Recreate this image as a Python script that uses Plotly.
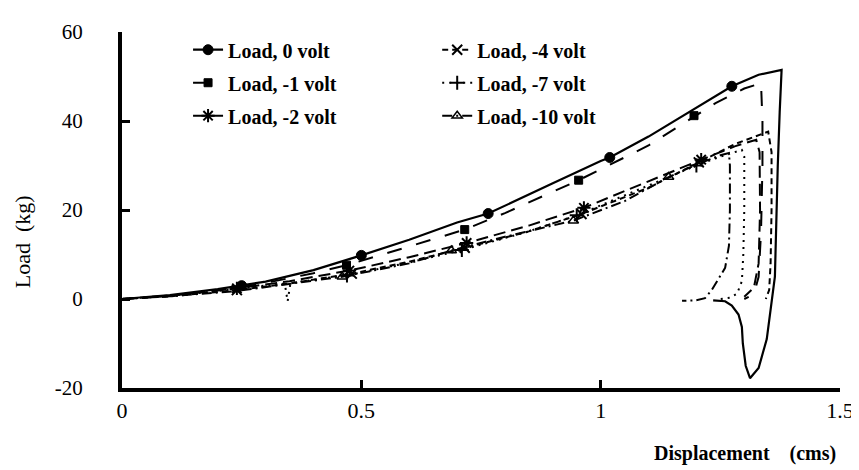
import plotly.graph_objects as go

# ---------------- data ----------------
# Load, 0 volt  (solid, filled circles)
v0_x = [0, 0.1, 0.2, 0.25, 0.3, 0.4, 0.5, 0.6, 0.7, 0.765, 0.8, 0.9, 1.0, 1.019, 1.1, 1.2, 1.274, 1.33, 1.378,
        1.374, 1.37, 1.364, 1.347, 1.33, 1.312, 1.303, 1.297, 1.295, 1.288, 1.274, 1.26, 1.235]
v0_y = [0, 0.9, 2.2, 3.0, 3.9, 6.5, 9.8, 13.3, 17.2, 19.2, 21.0, 26.0, 31.0, 31.8, 36.5, 43.0, 47.8, 50.4, 51.5,
        42, 30, 5, -9, -15.5, -17.8, -15, -10, -6.3, -3.5, -1.5, -0.5, -0.3]
v0_mx = [0.25, 0.5, 0.765, 1.019, 1.274]
v0_my = [3.0, 9.8, 19.2, 31.8, 47.8]

# Load, -1 volt  (squares)
v1_x = [0, 0.1, 0.235, 0.3, 0.4, 0.469, 0.6, 0.716, 0.8, 0.954, 1.1, 1.195, 1.24, 1.3, 1.335,
        1.338, 1.338, 1.335, 1.33, 1.32, 1.30]
v1_y = [0, 0.8, 2.4, 3.6, 5.8, 7.6, 11.8, 15.6, 19.3, 26.7, 34.5, 41.0, 44.0, 47.3, 48.5,
        40, 30, 15, 5, 1, 0]
v1_mx = [0.469, 0.716, 0.954, 1.195]
v1_my = [7.6, 15.6, 26.7, 41.2]

# Load, -2 volt  (asterisks)
v2_x = [0, 0.1, 0.24, 0.35, 0.48, 0.6, 0.72, 0.85, 0.965, 1.1, 1.21, 1.28, 1.325,
        1.332, 1.333, 1.33, 1.32, 1.30]
v2_y = [0, 0.7, 2.4, 4.0, 6.5, 9.4, 12.6, 16.5, 20.5, 26.5, 31.3, 34.3, 35.8,
        33, 20, 8, 2.5, 0.5]
v2_mx = [0.24, 0.475, 0.72, 0.965, 1.21]
v2_my = [2.4, 6.4, 12.6, 20.5, 31.3]

# Load, -4 volt  (x stars)
v4_x = [0, 0.1, 0.24, 0.35, 0.48, 0.6, 0.716, 0.85, 0.96, 1.1, 1.205, 1.28, 1.35,
        1.357, 1.357, 1.355, 1.352, 1.345]
v4_y = [0, 0.6, 2.0, 3.5, 5.7, 8.4, 11.5, 15.2, 19.1, 25.0, 30.7, 34.8, 37.6,
        33, 20, 8, 2, 0]
v4_mx = [0.24, 0.48, 0.716, 0.96, 1.205]
v4_my = [2.0, 5.7, 11.5, 19.1, 30.7]

# Load, -7 volt  (plus)
v7_x = [0, 0.1, 0.2, 0.3, 0.34, 0.346, 0.352, 0.48, 0.6, 0.71, 0.85, 0.95, 1.1, 1.2, 1.25, 1.295,
        1.3, 1.3, 1.298, 1.295, 1.285, 1.27, 1.25]
v7_y = [0, 0.7, 1.8, 3.0, 3.5, -0.5, 3.6, 5.5, 8.2, 11.0, 15.2, 18.8, 25.5, 30.0, 32.0, 33.5,
        32, 20, 10, 4, 1.2, 0.3, 0]
v7_mx = [0.47, 0.71, 0.95, 1.2]
v7_my = [5.3, 11.0, 18.8, 30.0]

# Load, -10 volt  (triangles)
v10_x = [0, 0.1, 0.24, 0.46, 0.6, 0.688, 0.8, 0.943, 1.05, 1.142, 1.2, 1.25, 1.268,
         1.27, 1.27, 1.268, 1.26, 1.247, 1.232, 1.218, 1.2, 1.17]
v10_y = [0, 0.6, 1.8, 5.0, 8.0, 10.9, 14.0, 17.6, 22.0, 27.4, 30.2, 32.3, 32.8,
         30, 20, 12, 7, 4.6, 2.0, 0.2, -0.3, -0.4]
v10_mx = [0.46, 0.688, 0.943, 1.142]
v10_my = [5.0, 10.9, 17.6, 27.4]

series_names = ["Load, 0 volt", "Load, -1 volt", "Load, -2 volt",
                "Load, -4 volt", "Load, -7 volt", "Load, -10 volt"]

x_ticks = [0, 0.5, 1, 1.5]
x_tick_labels = ["0", "0.5", "1", "1.5"]
y_ticks = [-20, 0, 20, 40, 60]
y_tick_labels = ["-20", "0", "20", "40", "60"]

# ---------------- figure ----------------
SERIF = "Liberation Serif"
series = [
    (v0_x, v0_y, v0_mx, v0_my, "solid", "circle", 10, 1, "legend"),
    (v1_x, v1_y, v1_mx, v1_my, "longdash", "square", 8, 1, "legend"),
    (v2_x, v2_y, v2_mx, v2_my, "12px,6px", "asterisk-open", 11, 2, "legend"),
    (v4_x, v4_y, v4_mx, v4_my, "6px,4px", "x-thin-open", 10, 2, "legend2"),
    (v7_x, v7_y, v7_mx, v7_my, "2px,5px", "cross-thin-open", 10, 2, "legend2"),
    (v10_x, v10_y, v10_mx, v10_my, "10px,4px,2px,4px", "triangle-up-open", 9, 1.5, "legend2"),
]

fig = go.Figure()
for i, (xs, ys, mx, my, dash, sym, msz, mlw, leg) in enumerate(series):
    name = series_names[i]
    lw = 2.2 if dash == "solid" else 2.0
    fig.add_trace(go.Scatter(x=xs, y=ys, mode="lines", showlegend=False,
                             line=dict(color="black", width=lw, dash=dash),
                             hoverinfo="skip"))
    fig.add_trace(go.Scatter(x=mx, y=my, mode="markers", showlegend=False,
                             marker=dict(symbol=sym, size=msz, color="black",
                                         line=dict(color="black", width=mlw))))
    # legend entry (line sample + marker)
    fig.add_trace(go.Scatter(x=[None], y=[None], mode="lines+markers", name=name,
                             legend=leg, legendgroup=name,
                             line=dict(color="black", width=lw, dash=dash),
                             marker=dict(symbol=sym, size=msz, color="black",
                                         line=dict(color="black", width=mlw))))

legend_common = dict(font=dict(family=SERIF, size=20, color="black", weight="bold"),
                     bgcolor="rgba(0,0,0,0)", borderwidth=0, tracegroupgap=4,
                     xanchor="left", yanchor="top")
fig.update_layout(
    width=859, height=470,
    margin=dict(l=114, r=27, t=13, b=90),
    paper_bgcolor="white", plot_bgcolor="white",
    font=dict(family=SERIF, size=20, color="black"),
    legend=dict(x=0.092, y=1.005, **legend_common),
    legend2=dict(x=0.439, y=1.005, **legend_common),
    xaxis=dict(range=[0, 1.5], tickvals=x_ticks, ticktext=x_tick_labels,
               showline=True, linecolor="black", linewidth=4, mirror=False,
               ticks="inside", ticklen=8, tickwidth=3, tickcolor="black",
               showgrid=False, zeroline=False, ticklabelstandoff=0,
               tickfont=dict(family=SERIF, size=22, color="black")),
    yaxis=dict(range=[-20, 60], tickvals=y_ticks, ticktext=y_tick_labels,
               showline=True, linecolor="black", linewidth=4, mirror=False,
               ticks="inside", ticklen=8, tickwidth=3, tickcolor="black",
               showgrid=False, zeroline=False, ticklabelstandoff=31,
               tickfont=dict(family=SERIF, size=21, color="black")),
    annotations=[
        dict(text="Load  (kg)", xref="paper", yref="paper", x=-0.139, y=0.41,
             textangle=-90, showarrow=False, xanchor="center", yanchor="middle",
             font=dict(family=SERIF, size=22, color="black")),
        dict(text="Displacement    (cms)", xref="paper", yref="paper", x=0.868, y=-0.184,
             showarrow=False, xanchor="center", yanchor="middle",
             font=dict(family=SERIF, size=20, color="black", weight="bold")),
    ],
)

fig.write_html("out.html")
